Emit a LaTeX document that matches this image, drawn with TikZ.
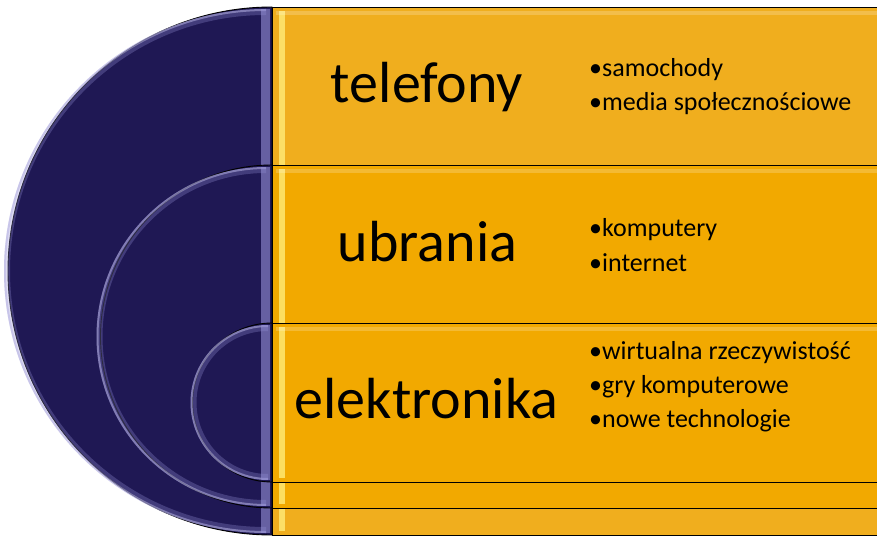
\documentclass[tikz,border=0pt]{standalone}
\usepackage{fontspec}
\setmainfont{Carlito}
\definecolor{navy}{RGB}{31,24,84}
\definecolor{glow}{RGB}{150,145,215}
\definecolor{orA}{RGB}{240,174,30}
\definecolor{orB}{RGB}{242,169,0}
\definecolor{hilite}{RGB}{255,236,120}
\tikzset{
  half/.style={fill=navy,draw=black,line width=0.9pt},
  band/.style={draw=black,line width=0.9pt},
  title/.style={anchor=base,font=\fontsize{58}{62}\selectfont,inner sep=0pt},
  item/.style={anchor=base west,font=\fontsize{26}{30}\selectfont,inner sep=0pt},
  softglow/.style={glow,opacity=0.3,line width=6pt},
  hardglow/.style={glow!70!white,opacity=0.55,line width=2pt},
}
\begin{document}
\begin{tikzpicture}[x=1pt,y=1pt]
\useasboundingbox (0,0) rectangle (877,536);
\fill[white] (0,0) rectangle (877,536);
% ---- outer level
\draw[half] (272,529) arc[start angle=90,end angle=270,radius=264] -- cycle;
\draw[softglow] (266,524) arc[start angle=90,end angle=270,radius=259];
\draw[hardglow] (266,526) arc[start angle=90,end angle=270,radius=261];
\fill[glow,opacity=0.6] (261,527) rectangle (270,3);
\draw[band,fill=orA] (272,1) rectangle (880,529);
\fill[hilite,opacity=0.8] (279,525) rectangle (285,5);
\fill[white,opacity=0.2] (276,525) rectangle (878,521);
% ---- middle level
\draw[half] (272,371) arc[start angle=90,end angle=270,radius=171.5] -- cycle;
\draw[softglow] (266,366) arc[start angle=90,end angle=270,radius=166.5];
\draw[hardglow] (266,368) arc[start angle=90,end angle=270,radius=168.5];
\fill[glow,opacity=0.6] (261,369) rectangle (270,30);
\draw[band,fill=orB] (272,28) rectangle (880,371);
\fill[hilite,opacity=0.8] (279,367) rectangle (285,32);
\fill[white,opacity=0.2] (276,367) rectangle (878,363);
% ---- inner level
\draw[half] (272,213) arc[start angle=90,end angle=270,radius=79.5] -- cycle;
\draw[softglow] (268,208) arc[start angle=90,end angle=270,radius=74.5];
\draw[hardglow] (268,210) arc[start angle=90,end angle=270,radius=76.5];
\fill[glow,opacity=0.6] (261,211) rectangle (270,56);
\draw[band,fill=orB] (272,54) rectangle (880,213);
\fill[hilite,opacity=0.8] (279,209) rectangle (285,58);
\fill[white,opacity=0.2] (276,209) rectangle (878,205);
% ---- texts
\node[title] (t1) at (427,433) {telefony};
\node[title] (t2) at (427.5,274) {ubrania};
\node[title] (t3) at (426.5,118) {elektronika};
\node[item] (a1) at (589,459) {•samochody};
\node[item] (a2) at (589,425) {•media społecznościowe};
\node[item] (b1) at (589,299) {•komputery};
\node[item] (b2) at (589,265) {•internet};
\node[item] (c1) at (589,177) {•wirtualna rzeczywistość};
\node[item] (c2) at (589,143) {•gry komputerowe};
\node[item] (c3) at (589,109) {•nowe technologie};
\end{tikzpicture}
\end{document}
